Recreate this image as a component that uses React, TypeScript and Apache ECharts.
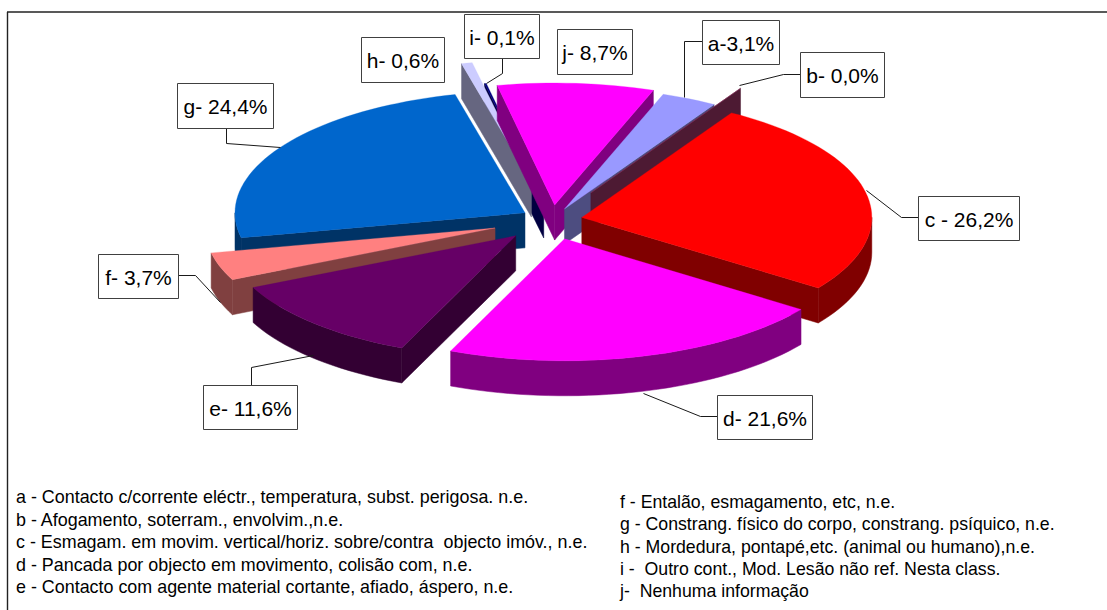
import React, { useEffect, useRef } from "react";
import * as echarts from "echarts";

// ---- data ----
const categories = ["a", "b", "c", "d", "e", "f", "g", "h", "i", "j"];
const values = [3.1, 0.0, 26.2, 21.6, 11.6, 3.7, 24.4, 0.6, 0.1, 8.7];
const valueLabels = ["a-3,1%", "b- 0,0%", "c - 26,2%", "d- 21,6%", "e- 11,6%", "f- 3,7%", "g- 24,4%", "h- 0,6%", "i- 0,1%", "j- 8,7%"];
const legendLeft = [
  "a - Contacto c/corrente eléctr., temperatura, subst. perigosa. n.e.",
  "b - Afogamento, soterram., envolvim.,n.e.",
  "c - Esmagam. em movim. vertical/horiz. sobre/contra  objecto imóv., n.e.",
  "d - Pancada por objecto em movimento, colisão com, n.e.",
  "e - Contacto com agente material cortante, afiado, áspero, n.e.",
];
const legendRight = [
  "f - Entalão, esmagamento, etc, n.e.",
  "g - Constrang. físico do corpo, constrang. psíquico, n.e.",
  "h - Mordedura, pontapé,etc. (animal ou humano),n.e.",
  "i -  Outro cont., Mod. Lesão não ref. Nesta class.",
  "j-  Nenhuma informação",
];

// ---- style and layout ----
const topColors = ["#9999FF", "#993366", "#FF0000", "#FF00FF", "#660066", "#FF8080", "#0066CC", "#CCCCFF", "#000080", "#FF00FF"];
const wallColors = ["#4D4D80", "#4D1A33", "#800000", "#800080", "#330033", "#804040", "#003366", "#666680", "#000040", "#800080"];
const explode = [0.1, 0.26, 0.105, 0.16, 0.18, 0.207, 0.11, 0.319, 0.142, 0.123];
const paintOrder = ["i", "h", "g", "j", "a", "b", "c", "f", "e", "d"];
const CX = 552, CY = 220, RX = 290, RY = 122, DEPTH = 35, START_ANGLE = 19.9;
const FONT = '"Liberation Sans", Arial, sans-serif';

// box: x, y, w, h; leader: polyline from the box to the slice
const labelBoxes: number[][] = [
  [702, 20, 77, 44], [800, 52, 84, 45], [918, 196, 101, 44], [717, 395, 95, 44], [203, 385, 94, 44],
  [98, 254, 80, 44], [177, 83, 96, 45], [361, 37, 83, 45], [464, 14, 75, 44], [557, 29, 75, 45],
];
const leaders: number[][][] = [
  [[702, 41], [684, 41], [684, 97]],
  [[800, 74], [783, 74], [739, 85]],
  [[918, 217], [901, 217], [866, 190]],
  [[717, 416], [700, 416], [643, 393]],
  [[251, 385], [251, 367], [313, 355]],
  [[178, 275], [195, 275], [220, 302]],
  [[226, 128], [226, 143], [280, 147]],
  [],
  [[502, 58], [502, 73], [486, 83]],
  [],
];

const total = values.reduce((s, v) => s + v, 0);
const spans = values.map((v) => (v / total) * 360);
const starts = spans.map((_, i) => START_ANGLE + spans.slice(0, i).reduce((s, v) => s + v, 0));

const rad = (d: number) => (d * Math.PI) / 180;
const arcPoints = (ox: number, oy: number, a0: number, a1: number, dy = 0) => {
  const n = Math.max(1, Math.ceil(Math.abs(a1 - a0) / 2));
  const pts: number[][] = [];
  for (let k = 0; k <= n; k++) {
    const a = rad(a0 + ((a1 - a0) * k) / n);
    pts.push([ox + RX * Math.sin(a), oy - RY * Math.cos(a) + dy]);
  }
  return pts;
};

const renderSlice = (params: any) => {
  const i = params.dataIndex;
  const a0 = starts[i];
  const a1 = a0 + spans[i];
  const mid = rad((a0 + a1) / 2);
  const ox = CX + RX * explode[i] * Math.sin(mid);
  const oy = CY - RY * explode[i] * Math.cos(mid);
  const base = (paintOrder.indexOf(categories[i]) + 1) * 10;
  const wall = { fill: wallColors[i], stroke: wallColors[i], lineWidth: 0.5 };
  const children: any[] = [];
  const edgeWall = (deg: number) => {
    const a = rad(deg);
    const tip = [ox + RX * Math.sin(a), oy - RY * Math.cos(a)];
    children.push({
      type: "polygon",
      z2: base,
      silent: true,
      shape: { points: [[ox, oy], tip, [tip[0], tip[1] + DEPTH], [ox, oy + DEPTH]] },
      style: wall,
    });
  };
  if (Math.sin(rad(a0)) < 0) edgeWall(a0);
  if (Math.sin(rad(a1)) > 0) edgeWall(a1);
  // The outer rim faces the viewer only between 90 and 270 degrees.
  for (const shift of [0, 360]) {
    const w0 = Math.max(a0, 90 + shift);
    const w1 = Math.min(a1, 270 + shift);
    if (w1 > w0) {
      const upper = arcPoints(ox, oy, w0, w1);
      const lower = arcPoints(ox, oy, w1, w0, DEPTH);
      children.push({
        type: "polygon",
        z2: base + 1,
        silent: true,
        shape: { points: upper.concat(lower) },
        style: wall,
      });
    }
  }
  children.push({
    type: "polygon",
    z2: base + 2,
    silent: true,
    shape: { points: [[ox, oy], ...arcPoints(ox, oy, a0, a1)] },
    style: { fill: topColors[i], stroke: topColors[i], lineWidth: 0.3 },
  });
  return { type: "group", children };
};

const lineStyle = { stroke: "#1a1a1a", lineWidth: 1, fill: "none" };

const buildGraphics = () => {
  const els: any[] = [
    { type: "line", shape: { x1: 7, y1: 12, x2: 1107, y2: 12 }, style: { stroke: "#222222", lineWidth: 1.6 } },
    { type: "line", shape: { x1: 7.5, y1: 12, x2: 7.5, y2: 610 }, style: { stroke: "#222222", lineWidth: 1.4 } },
  ];
  valueLabels.forEach((txt, i) => {
    const [x, y, w, h] = labelBoxes[i];
    if (leaders[i].length) {
      els.push({ type: "polyline", shape: { points: leaders[i].map((p) => [p[0] + 0.5, p[1] + 0.5]) }, style: lineStyle });
    }
    els.push({
      type: "rect",
      shape: { x: x + 0.5, y: y + 0.5, width: w, height: h },
      style: { fill: "#FFFFFF", stroke: "#404040", lineWidth: 1 },
    });
    els.push({
      type: "text",
      x: x + w / 2 + 0.5,
      y: y + h / 2 + 1,
      style: { text: txt, fill: "#000000", font: `21px ${FONT}`, textAlign: "center", textVerticalAlign: "middle" },
    });
  });
  const legendRows = (rows: string[], x: number, y0: number, step: number, size: number) =>
    rows.forEach((txt, k) =>
      els.push({
        type: "text",
        x,
        y: y0 + k * step,
        style: { text: txt, fill: "#000000", font: `${size}px ${FONT}`, textAlign: "left", textVerticalAlign: "middle" },
      })
    );
  legendRows(legendLeft, 16, 497, 22.5, 17.9);
  legendRows(legendRight, 620, 502, 22.3, 17.7);
  return els;
};

export default function App() {
  const ref = useRef<HTMLDivElement>(null);
  useEffect(() => {
    const chart = echarts.init(ref.current!, undefined, { renderer: "svg" });
    chart.setOption({
      animation: false,
      backgroundColor: "#FFFFFF",
      series: [
        {
          type: "custom",
          coordinateSystem: "none",
          silent: true,
          z: 2,
          renderItem: renderSlice,
          data: values.map((v, i) => ({ name: categories[i], value: v })),
        },
      ],
      graphic: { elements: buildGraphics().map((e) => ({ ...e, z: 5, silent: true })) },
    });
    return () => chart.dispose();
  }, []);
  return <div ref={ref} style={{ position: "absolute", left: 0, top: 0, width: 1107, height: 610 }} />;
}
